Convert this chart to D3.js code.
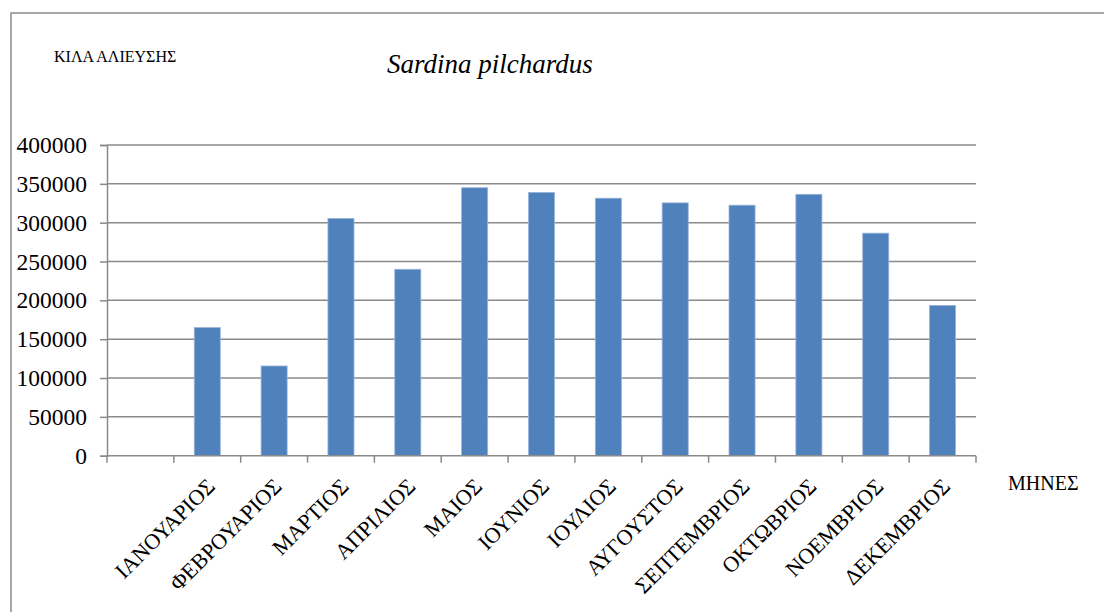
<!DOCTYPE html>
<html><head><meta charset="utf-8">
<script src="https://cdn.jsdelivr.net/npm/d3@7"></script>
</head>
<body style="margin:0">
<svg id="chart" width="1104" height="612" style="font-family:'Liberation Serif' !important"></svg>
<script>
const categories = ["", "ΙΑΝΟΥΑΡΙΟΣ","ΦΕΒΡΟΥΑΡΙΟΣ","ΜΑΡΤΙΟΣ","ΑΠΡΙΛΙΟΣ","ΜΑΙΟΣ","ΙΟΥΝΙΟΣ","ΙΟΥΛΙΟΣ","ΑΥΓΟΥΣΤΟΣ","ΣΕΠΤΕΜΒΡΙΟΣ","ΟΚΤΩΒΡΙΟΣ","ΝΟΕΜΒΡΙΟΣ","ΔΕΚΕΜΒΡΙΟΣ"];
const values = [null, 165000, 115500, 305500, 240000, 345000, 339000, 331500, 325500, 322500, 336500, 286500, 193500];
const yTicks = [0,50000,100000,150000,200000,250000,300000,350000,400000];
const chartTitle = "Sardina pilchardus";
const yTitle = "ΚΙΛΑ ΑΛΙΕΥΣΗΣ";
const xTitle = "ΜΗΝΕΣ";

const svg = d3.select("#chart");
const setFont = (sel, size, italic) => sel.each(function(){
  this.style.setProperty("font-family", "\"Liberation Serif\"", "important");
  this.style.setProperty("font-size", size, "important");
  if (italic) this.style.setProperty("font-style", "italic", "important");
});
const pl = 107, pr = 976, pt = 145, pb = 455.7;

svg.append("rect").attr("x",11).attr("y",13).attr("width",1110).attr("height",620)
  .attr("fill","none").attr("stroke","#8c8c8c").attr("stroke-width",1.5);

const x = d3.scaleBand().domain(d3.range(categories.length)).range([pl,pr]).paddingInner(0.61).paddingOuter(0.305);
const xb = d3.scaleBand().domain(d3.range(categories.length)).range([pl,pr]);
const y = d3.scaleLinear().domain([0,400000]).range([pb,pt]);

svg.append("g").selectAll("line").data(yTicks.filter(d=>d>0)).join("line")
  .attr("x1",pl).attr("x2",pr).attr("y1",d=>y(d)).attr("y2",d=>y(d))
  .attr("stroke","#8a8a8a").attr("stroke-width",1.5);

const yAxis = d3.axisLeft(y).tickValues(yTicks).tickSize(7).tickPadding(13).tickFormat(d=>String(d));
const gy = svg.append("g").attr("transform",`translate(${pl},0)`).call(yAxis)
  .attr("font-family","Liberation Serif");
gy.select(".domain").attr("stroke","#8a8a8a").attr("stroke-width",1.5);
gy.selectAll(".tick line").attr("stroke","#8a8a8a").attr("stroke-width",1.5);
setFont(gy.selectAll(".tick text").attr("fill","#000"), "23.5px");

svg.append("g").selectAll("rect").data(values.map((v,i)=>({v,i})).filter(d=>d.v!=null)).join("rect")
  .attr("x",d=>x(d.i)).attr("width",x.bandwidth())
  .attr("y",d=>y(d.v)).attr("height",d=>pb-y(d.v))
  .attr("fill","#4f81bd").attr("stroke","#9bb5da").attr("stroke-width",0.8);

const gx = svg.append("g").attr("transform",`translate(0,${pb})`);
gx.append("line").attr("x1",pl).attr("x2",pr).attr("stroke","#8a8a8a").attr("stroke-width",1.5);
gx.selectAll("line.tk").data(d3.range(categories.length+1)).join("line").attr("class","tk")
  .attr("x1",i=>pl+i*xb.step()).attr("x2",i=>pl+i*xb.step()).attr("y1",0).attr("y2",7)
  .attr("stroke","#8a8a8a").attr("stroke-width",1.5);
setFont(gx.selectAll("text").data(categories.map((c,i)=>({c,i})).filter(d=>d.c)).join("text")
  .attr("transform",d=>`translate(${xb(d.i)+xb.bandwidth()/2+9},32) rotate(-45)`)
  .attr("text-anchor","end").attr("fill","#000").text(d=>d.c), "22px");

setFont(svg.append("text").attr("x",387).attr("y",73).text(chartTitle), "27px", true);
setFont(svg.append("text").attr("x",54).attr("y",62).text(yTitle), "16px");
setFont(svg.append("text").attr("x",1008).attr("y",490).text(xTitle), "20px");
</script>
</body></html>
